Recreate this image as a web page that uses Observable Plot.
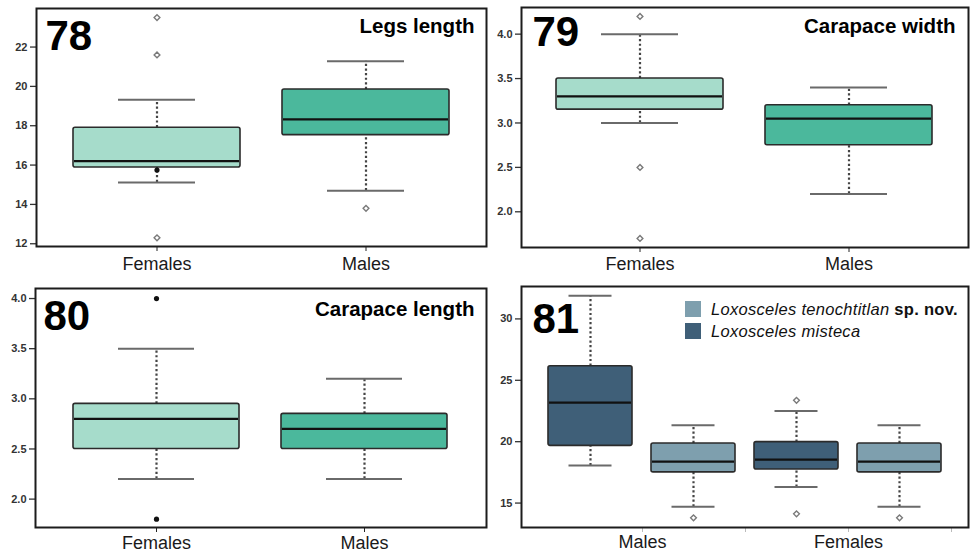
<!DOCTYPE html>
<html><head><meta charset="utf-8">
<script src="https://cdn.jsdelivr.net/npm/d3@7"></script>
<script src="https://cdn.jsdelivr.net/npm/@observablehq/plot@0.6"></script>
<style>
body{margin:0;background:#fff;font-family:"Liberation Sans",Arial,sans-serif;}
#wrap{position:relative;width:970px;height:557px;overflow:hidden;background:#fff;}
.panel{position:absolute;}
.panel svg{background:transparent;}
#legend{position:absolute;left:685px;top:298px;font-size:16.5px;letter-spacing:0.3px;color:#111;}
#legend .row{display:flex;align-items:center;height:22px;}
#legend .sw{width:16px;height:16px;margin-right:10px;}
</style></head><body><div id="wrap"></div>
<script>
// ---------- Panel 78: Legs length ----------
const sexes = ["Females", "Males"];
const legsLo  = [15.12, 14.70];
const legsQ1  = [15.88, 17.52];
const legsMed = [16.20, 18.32];
const legsQ3  = [17.90, 19.84];
const legsHi  = [19.32, 21.28];
const legsOutSex = ["Females", "Females", "Females", "Males"];
const legsOutVal = [23.5, 21.6, 12.3, 13.8];
const legsDotSex = ["Females"];
const legsDotVal = [15.75];
const legsTicks = [12, 14, 16, 18, 20, 22];

// ---------- Panel 79: Carapace width ----------
const widthLo  = [3.00, 2.20];
const widthQ1  = [3.15, 2.75];
const widthMed = [3.30, 3.05];
const widthQ3  = [3.50, 3.20];
const widthHi  = [4.00, 3.40];
const widthOutSex = ["Females", "Females", "Females"];
const widthOutVal = [4.2, 2.5, 1.7];
const widthTicks = [2.0, 2.5, 3.0, 3.5, 4.0];

// ---------- Panel 80: Carapace length ----------
const lengthLo  = [2.20, 2.20];
const lengthQ1  = [2.50, 2.50];
const lengthMed = [2.80, 2.70];
const lengthQ3  = [2.95, 2.85];
const lengthHi  = [3.50, 3.20];
const lengthDotSex = ["Females", "Females"];
const lengthDotVal = [4.0, 1.8];
const lengthTicks = [2.0, 2.5, 3.0, 3.5, 4.0];

// ---------- Panel 81: two species ----------
const speciesNames = ["Loxosceles tenochtitlan", "Loxosceles misteca"];
const speciesSuffix = [" sp. nov.", ""];
const grpSex     = ["Males", "Males", "Females", "Females"];
const grpSpecies = ["Loxosceles misteca", "Loxosceles tenochtitlan", "Loxosceles misteca", "Loxosceles tenochtitlan"];
const grpLo  = [18.05, 14.69, 16.30, 14.69];
const grpQ1  = [19.66, 17.50, 17.73, 17.50];
const grpMed = [23.18, 18.38, 18.54, 18.38];
const grpQ3  = [26.15, 19.85, 19.96, 19.85];
const grpHi  = [31.88, 21.33, 22.50, 21.33];
const grpOutIdx = [1, 2, 2, 3];
const grpOutVal = [13.8, 23.37, 14.12, 13.8];
const grpTicks = [15, 20, 25, 30];

// ---------- styles ----------
const sexColors = ["#a6dccb", "#4bb89c"];
const speciesColors = ["#7e9fae", "#3f5f78"];
const FONT = "Liberation Sans, Arial, sans-serif";

function boxPlot(cfg) {
  const rows = cfg.keys.map((k, i) => ({k, cat: cfg.cats[i], lo: cfg.lo[i], q1: cfg.q1[i], med: cfg.med[i], q3: cfg.q3[i], hi: cfg.hi[i]}));
  const whisk = {x: "k", stroke: "#444", strokeWidth: 2.2, strokeDasharray: "2.2,2.4"};
  const cap = {x: "k", stroke: "#6a6a6a", strokeWidth: 2, insetLeft: cfg.capInset, insetRight: cfg.capInset};
  const svg = Plot.plot({
    width: cfg.width, height: cfg.height,
    marginLeft: cfg.m[0], marginRight: cfg.m[1], marginTop: cfg.m[2], marginBottom: cfg.m[3],
    style: {fontFamily: FONT, background: "transparent", overflow: "visible"},
    x: {domain: cfg.keys, paddingInner: cfg.pad[0], paddingOuter: cfg.pad[1], axis: null, label: null},
    y: {domain: cfg.yDomain, axis: null, label: null},
    color: {domain: cfg.colorDomain, range: cfg.colorRange},
    marks: [
      Plot.ruleX(rows, {...whisk, y1: "q3", y2: "hi"}),
      Plot.ruleX(rows, {...whisk, y1: "lo", y2: "q1"}),
      Plot.tickY(rows, {...cap, y: "hi"}),
      Plot.tickY(rows, {...cap, y: "lo"}),
      Plot.barY(rows, {x: "k", y1: "q1", y2: "q3", fill: "cat", stroke: "#2b2b2b", strokeWidth: 1.6, rx: 2}),
      Plot.tickY(rows, {x: "k", y: "med", stroke: "#111", strokeWidth: 2.2, insetLeft: 1, insetRight: 1}),
      Plot.dot(cfg.outK.map((k, i) => ({k, v: cfg.outV[i]})), {x: "k", y: "v", symbol: "diamond2", r: 2.6, stroke: "#7a7a7a", strokeWidth: 1.4, fill: "white"}),
      Plot.dot(cfg.dotK.map((k, i) => ({k, v: cfg.dotV[i]})), {x: "k", y: "v", r: 2.6, fill: "#111"}),
      Plot.axisY({ticks: cfg.yTicks, tickFormat: cfg.yFmt, tickSize: 6, tickPadding: 3, fontSize: 11, fontWeight: "bold", color: "#333", strokeWidth: 1.3, label: null}),
      Plot.axisX({tickSize: 5, tickPadding: cfg.xPad, fontSize: 18, color: "#1a1a1a", stroke: cfg.tickColor, tickFormat: cfg.xFmt, dx: cfg.xDx, label: null, ariaLabel: "xlabels"}),
      Plot.frame({stroke: "#1c1c1c", strokeWidth: 2}),
      Plot.text([cfg.number], {frameAnchor: "top-left", dx: cfg.numD[0], dy: cfg.numD[1], lineAnchor: "top", textAnchor: "start", fontSize: 42, fontWeight: "bold", fill: "#000"}),
      cfg.title ? Plot.text([cfg.title], {frameAnchor: "top-right", dx: cfg.titleD[0], dy: cfg.titleD[1], lineAnchor: "top", textAnchor: "end", fontSize: 20.5, fontWeight: "bold", fill: "#000", ariaLabel: "paneltitle"}) : null
    ]
  });
  svg.querySelectorAll('g[aria-label="paneltitle"] text').forEach(t => t.setAttribute("letter-spacing", "1.3"));
  svg.querySelectorAll('g[aria-label="xlabels"] text').forEach(t => t.setAttribute("letter-spacing", "1.3"));
  return svg;
}

function place(svg, left, top) {
  const d = document.createElement("div");
  d.className = "panel";
  d.style.left = left + "px";
  d.style.top = top + "px";
  d.appendChild(svg);
  document.getElementById("wrap").appendChild(d);
}

const fmt1 = d3.format(".1f");

place(boxPlot({
  keys: sexes, cats: sexes, lo: legsLo, q1: legsQ1, med: legsMed, q3: legsQ3, hi: legsHi,
  outK: legsOutSex, outV: legsOutVal, dotK: legsDotSex, dotV: legsDotVal,
  colorDomain: sexes, colorRange: sexColors,
  yDomain: [11.86, 23.96], yTicks: legsTicks, yFmt: d => d,
  width: 488, height: 280, m: [36, 2, 8, 34], pad: [0.2, 0.1765], capInset: 45,
  xPad: 6, xDx: 0, tickColor: "#222",
  number: "78", numD: [9, 12], title: "Legs length", titleD: [-12, 10]
}), 0, 0);

place(boxPlot({
  keys: sexes, cats: sexes, lo: widthLo, q1: widthQ1, med: widthMed, q3: widthQ3, hi: widthHi,
  outK: widthOutSex, outV: widthOutVal, dotK: [], dotV: [],
  colorDomain: sexes, colorRange: sexColors,
  yDomain: [1.598, 4.30], yTicks: widthTicks, yFmt: fmt1,
  width: 485, height: 280, m: [36, 2, 7, 33], pad: [0.2, 0.169], capInset: 45,
  xPad: 5, xDx: 0, tickColor: "#222",
  number: "79", numD: [11, 9], title: "Carapace width", titleD: [-13, 11]
}), 485, 0);

place(boxPlot({
  keys: sexes, cats: sexes, lo: lengthLo, q1: lengthQ1, med: lengthMed, q3: lengthQ3, hi: lengthHi,
  outK: [], outV: [], dotK: lengthDotSex, dotV: lengthDotVal,
  colorDomain: sexes, colorRange: sexColors,
  yDomain: [1.717, 4.10], yTicks: lengthTicks, yFmt: fmt1,
  width: 488, height: 277, m: [35, 2, 8, 30], pad: [0.2, 0.179], capInset: 45,
  xPad: 4, xDx: 0, tickColor: "#222",
  number: "80", numD: [8, 12], title: "Carapace length", titleD: [-12, 13]
}), 0, 280);

const grpKeys = grpSex.map((s, i) => s + " | " + grpSpecies[i]);
place(boxPlot({
  keys: grpKeys, cats: grpSpecies, lo: grpLo, q1: grpQ1, med: grpMed, q3: grpQ3, hi: grpHi,
  outK: grpOutIdx.map(i => grpKeys[i]), outV: grpOutVal, dotK: [], dotV: [],
  colorDomain: speciesNames, colorRange: speciesColors,
  yDomain: [13.01, 32.64], yTicks: grpTicks, yFmt: d => d,
  width: 485, height: 277, m: [36, 2, 6, 30], pad: [0.187, 0.257], capInset: 20.5,
  xPad: 3, xDx: 52, tickColor: "#bbb",
  xFmt: d => { const i = grpKeys.indexOf(d); return grpSex.indexOf(grpSex[i]) === i ? grpSex[i] : ""; },
  number: "81", numD: [11, 17], title: null
}), 485, 280);

// legend for panel 81
const lg = document.createElement("div");
lg.id = "legend";
speciesNames.forEach((name, i) => {
  const row = document.createElement("div");
  row.className = "row";
  const sw = document.createElement("div");
  sw.className = "sw";
  sw.style.background = speciesColors[i];
  const tx = document.createElement("span");
  const it = document.createElement("i");
  it.textContent = name;
  tx.appendChild(it);
  if (speciesSuffix[i]) {
    const b = document.createElement("b");
    b.textContent = speciesSuffix[i];
    tx.appendChild(b);
  }
  row.appendChild(sw);
  row.appendChild(tx);
  lg.appendChild(row);
});
document.getElementById("wrap").appendChild(lg);
</script></body></html>
